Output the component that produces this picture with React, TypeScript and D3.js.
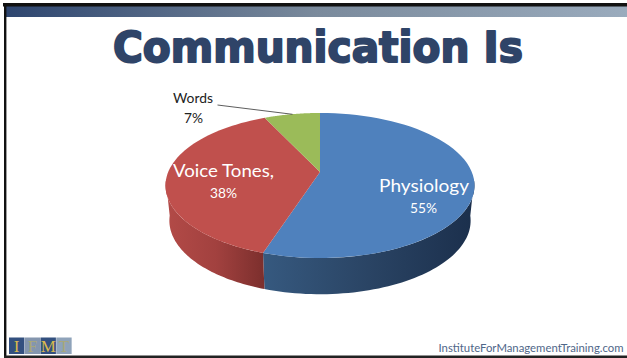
import React from "react";
import * as d3 from "d3";

const categories = ["Physiology", "Voice Tones,", "Words"];
const shares = [55, 38, 7];
const shareLabels = ["55%", "38%", "7%"];
const topColors = ["#4f81bd", "#c0504d", "#9bbb59"];
const sideStops = [
  ["#36597f", "#2a4464", "#1b2f4c"],
  ["#b24a47", "#a2413f", "#7c2f2d"],
  ["#7f9a48", "#7f9a48", "#7f9a48"],
];
const logoLetters = ["I", "F", "M", "T"];
const logoFills = ["#33507f", "#8496ae", "#33507f", "#8fa3ba"];

const W = 627;
const H = 358;

// Perspective tilted disc: the front of the pie is nearer the viewer
type Plane = { cx: number; cy: number; bx: number; by: number; k: number };
const topPlane: Plane = { cx: 320, cy: 172, bx: 151.8, by: 70, k: 0.186 };
const basePlane: Plane = { cx: 320, cy: 207, bx: 148, by: 71, k: 0.186 };

const project = (p: Plane, a: number): [number, number] => {
  const u = Math.sin(a);
  const v = -Math.cos(a);
  const w = 1 - p.k * v;
  return [p.cx + (p.bx * u) / w, p.cy + (p.by * v) / w];
};

const sweep = (p: Plane, a0: number, a1: number) =>
  d3.range(0, 61).map((i) => project(p, a0 + ((a1 - a0) * i) / 60));

const outline = d3.line();
const pie = d3.pie<number>().sort(null)(shares);

export default function App() {
  const frontStart = Math.PI / 2 + 0.12;
  const frontEnd = (3 * Math.PI) / 2 - 0.12;
  return (
    <svg
      width={W}
      height={H}
      viewBox={`0 0 ${W} ${H}`}
      style={{ position: "fixed", left: 0, top: 0, background: "#fff" }}
    >
      <defs>
        <linearGradient id="band" x1="0" x2="1" y1="0" y2="0">
          <stop offset="0" stopColor="#2d456f" />
          <stop offset="0.5" stopColor="#7a8a9c" />
          <stop offset="1" stopColor="#9aabbd" />
        </linearGradient>
        {sideStops.map((s, i) => (
          <linearGradient
            key={i}
            id={`side${i}`}
            gradientUnits="userSpaceOnUse"
            x1={i === 0 ? 263 : 168}
            x2={i === 0 ? 474 : 264}
            y1="0"
            y2="0"
          >
            <stop offset="0" stopColor={s[0]} />
            <stop offset="0.5" stopColor={s[1]} />
            <stop offset="1" stopColor={s[2]} />
          </linearGradient>
        ))}
      </defs>

      {/* Slide frame */}
      <rect x="4" y="6" width={W - 4} height="11" fill="url(#band)" />
      <rect x="3" y="3" width={W - 3} height="3.5" fill="#111" />
      <rect x="4" y="3" width="2.4" height={H - 3} fill="#111" />
      <rect x="4" y="355.5" width={W - 4} height="2.5" fill="#222" />

      <text
        x="113"
        y="62"
        textLength="410"
        lengthAdjust="spacingAndGlyphs"
        fontFamily="DejaVu Sans"
        fontWeight="700"
        fontSize="43"
        fill="#2f4468"
        stroke="#2f4468"
        strokeWidth="2"
        strokeLinejoin="round"
      >
        Communication Is
      </text>

      {/* Extruded wall, visible along the front half only */}
      {pie.map((s, i) => {
        const a0 = Math.max(s.startAngle, frontStart);
        const a1 = Math.min(s.endAngle, frontEnd);
        if (a1 <= a0) return null;
        const pts = [...sweep(topPlane, a0, a1), ...sweep(basePlane, a0, a1).reverse()];
        return <path key={i} d={outline(pts) + "Z"} fill={`url(#side${i})`} />;
      })}

      {/* Top face */}
      {pie.map((s, i) => {
        const pts = [[topPlane.cx, topPlane.cy] as [number, number], ...sweep(topPlane, s.startAngle, s.endAngle)];
        return <path key={i} d={outline(pts) + "Z"} fill={topColors[i]} />;
      })}

      {/* Leader line for the small slice */}
      <path d="M217.5,105 L292.5,114.3" fill="none" stroke="#333" strokeWidth="0.8" />

      <g fontFamily="Lato" textAnchor="start" fontWeight="400">
        <text x="379" y="192" fontSize="18" fill="#fff" textLength="90" lengthAdjust="spacingAndGlyphs">{categories[0]}</text>
        <text x="410" y="213" fontSize="14" fill="#fff" textLength="27" lengthAdjust="spacingAndGlyphs">{shareLabels[0]}</text>
        <text x="173" y="177" fontSize="18" fill="#fff" textLength="101" lengthAdjust="spacingAndGlyphs">{categories[1]}</text>
        <text x="210" y="198" fontSize="14" fill="#fff" textLength="27" lengthAdjust="spacingAndGlyphs">{shareLabels[1]}</text>
        <text x="173" y="103" fontSize="14" fill="#222" textLength="40" lengthAdjust="spacingAndGlyphs">{categories[2]}</text>
        <text x="184" y="122.5" fontSize="14" fill="#222" textLength="19" lengthAdjust="spacingAndGlyphs">{shareLabels[2]}</text>
      </g>

      {/* Logo blocks */}
      {logoLetters.map((l, i) => {
        const x = d3.scaleLinear().domain([0, 4]).range([9, 72])(i);
        return (
          <g key={l}>
            <rect x={x} y="337.5" width="15.4" height="16.5" fill={logoFills[i]} />
            <text
              x={x + 7.7}
              y="352"
              textAnchor="middle"
              fontFamily="Liberation Serif"
              fontSize="17"
              fill={i % 2 === 0 ? "#d9b94e" : "#a9a878"}
            >
              {l}
            </text>
          </g>
        );
      })}

      <text
        x="438.5"
        y="352"
        fontFamily="Lato"
        fontSize="11"
        fill="#4f6789"
        textLength="185"
        lengthAdjust="spacingAndGlyphs"
      >
        InstituteForManagementTraining.com
      </text>
    </svg>
  );
}
